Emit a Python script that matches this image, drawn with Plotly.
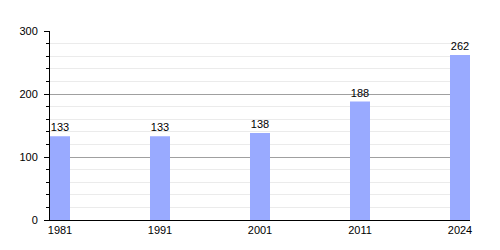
import plotly.graph_objects as go

years = ["1981", "1991", "2001", "2011", "2024"]
population = [133, 133, 138, 188, 262]
y_ticks = [0, 100, 200, 300]

fig = go.Figure(go.Bar(
    x=years, y=population, width=0.2,
    marker=dict(color="#99aaff", line=dict(width=0)),
    text=[str(v) for v in population], textposition="outside",
    textfont=dict(family="Liberation Sans, Arial", size=11, color="#000"),
    cliponaxis=False,
))

fig.update_layout(
    width=500, height=250,
    margin=dict(l=50, r=30, t=31, b=30),
    paper_bgcolor="white", plot_bgcolor="white",
    showlegend=False,
    font=dict(family="Liberation Sans, Arial", size=11, color="#000"),
    xaxis=dict(type="category", range=[-0.1, 4.1], showline=True, linecolor="#000",
               linewidth=1, ticks="", showgrid=False, tickfont=dict(size=11, color="#000")),
    yaxis=dict(range=[0, 300], tickvals=y_ticks, showline=True, linecolor="#000",
               linewidth=1, ticks="outside", ticklen=5, tickcolor="#000",
               gridcolor="#a0a0a0", gridwidth=1, zeroline=False,
               ticklabelstandoff=4,
               minor=dict(dtick=20, showgrid=True, gridcolor="#ebebeb", ticks="outside",
                          ticklen=3, tickcolor="#000"),
               tickfont=dict(size=11, color="#000")),
)

fig.write_html("out.html")
